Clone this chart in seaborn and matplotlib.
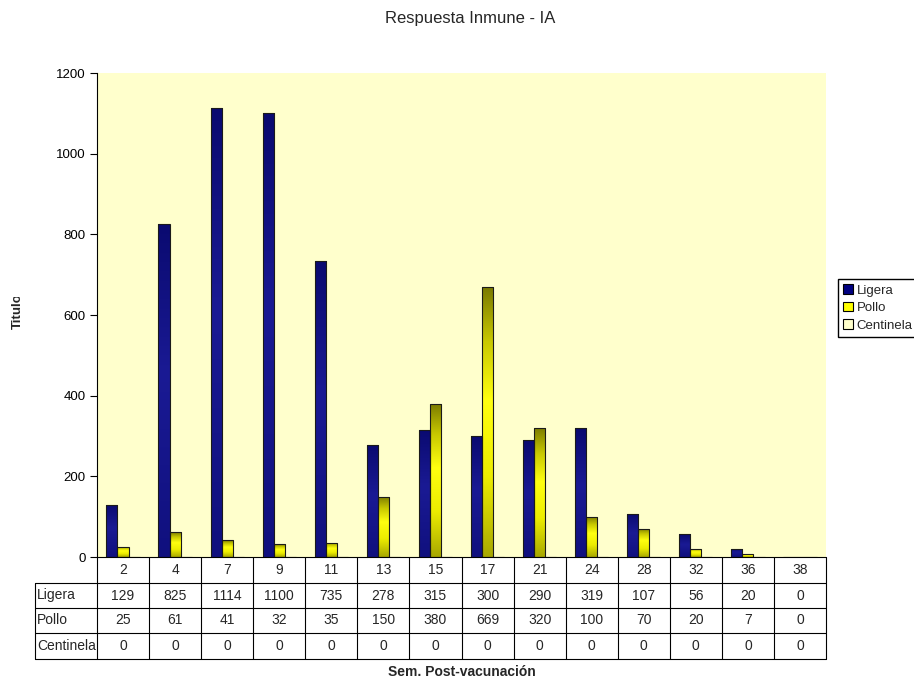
import numpy as np
import pandas as pd
import matplotlib
matplotlib.use("Agg")
import matplotlib.pyplot as plt
from matplotlib.colors import to_rgb
from matplotlib.lines import Line2D
from matplotlib.patches import Patch
from matplotlib.transforms import Bbox, TransformedBbox
import seaborn as sns

# ---- data -------------------------------------------------------------
weeks = [2, 4, 7, 9, 11, 13, 15, 17, 21, 24, 28, 32, 36, 38]
ligera = [129, 825, 1114, 1100, 735, 278, 315, 300, 290, 319, 107, 56, 20, 0]
pollo = [25, 61, 41, 32, 35, 150, 380, 669, 320, 100, 70, 20, 7, 0]
centinela = [0, 0, 0, 0, 0, 0, 0, 0, 0, 0, 0, 0, 0, 0]
series = ["Ligera", "Pollo", "Centinela"]
y_ticks = [0, 200, 400, 600, 800, 1000, 1200]

colors = {"Ligera": "#000080", "Pollo": "#ffff00", "Centinela": "#ffffcc"}

rows = []
for name, vals in zip(series, [ligera, pollo, centinela]):
    for w, v in zip(weeks, vals):
        rows.append({"semana": str(w), "serie": name, "valor": v})
df = pd.DataFrame(rows)

# ---- style ------------------------------------------------------------
sns.set_style("white")
plt.rcParams["font.family"] = ["Liberation Sans", "DejaVu Sans"]
fs_tick, fs_table, fs_legend, fs_title = 9.5, 10, 9.5, 12

W, H = 914, 682
fig = plt.figure(figsize=(W / 100, H / 100), dpi=100)
fig.patch.set_facecolor("white")


def fx(px):
    return px / W


def fy(py):
    return 1 - py / H


L, R, T, B = 97, 826, 73, 557
ax = fig.add_axes([fx(L), fy(B), (R - L) / W, (B - T) / H])
ax.set_facecolor("#ffffcc")

sns.barplot(data=df, x="semana", y="valor", hue="serie",
            order=[str(w) for w in weeks], hue_order=series,
            palette=colors, width=0.64, errorbar=None,
            edgecolor="#1a1a1a", linewidth=0.8, legend=False, ax=ax)

# vertical shading inside the bars
grad_stops = {
    "Ligera": [(0.0, "#10107e"), (0.55, "#1a1a94"), (1.0, "#0a0a70")],
    "Pollo": [(0.0, "#a8a800"), (0.3, "#eded00"), (0.58, "#ffff10"),
              (0.8, "#c8c800"), (1.0, "#7a7a00")],
}


def gradient(stops, n=200):
    t = np.linspace(0, 1, n)
    pos = [s[0] for s in stops]
    cols = np.array([to_rgb(s[1]) for s in stops])
    img = np.stack([np.interp(t, pos, cols[:, k]) for k in range(3)], axis=-1)
    return img[::-1, None, :]  # top row first


for name, cont in zip(series, ax.containers):
    if name not in grad_stops:
        continue
    img = gradient(grad_stops[name])
    for p in cont:
        h = p.get_height()
        if h <= 0:
            continue
        x0 = p.get_x()
        im = ax.imshow(img, extent=[x0, x0 + p.get_width(), 0, h],
                       aspect="auto", zorder=p.get_zorder() - 0.05,
                       interpolation="bilinear")
        im.set_clip_path(p)
        p.set_facecolor("none")

ax.set_xlim(-0.5, len(weeks) - 0.5)
ax.set_ylim(0, 1200)
ax.set_aspect("auto")
ax.set_yticks(y_ticks)
ax.set_xticks([])
ax.set_xlabel("")
ax.set_ylabel("")
ax.tick_params(axis="y", direction="out", length=5, width=0.8,
               labelsize=fs_tick, pad=3, colors="black", left=True)
for s in ["top", "right", "bottom"]:
    ax.spines[s].set_visible(False)
ax.spines["left"].set_color("black")
ax.spines["left"].set_linewidth(0.8)

# ---- data table under the axis -----------------------------------------
ncol = len(weeks)
cw = (R - L) / ncol
col_edges = [L + i * cw for i in range(ncol + 1)]
row_edges = [557, 583, 608, 633, 659]
lab_left = 35
lw = 0.8


def hline(x0, x1, y):
    fig.add_artist(Line2D([fx(x0), fx(x1)], [fy(y), fy(y)], color="black",
                          lw=lw, transform=fig.transFigure))


def vline(x, y0, y1):
    fig.add_artist(Line2D([fx(x), fx(x)], [fy(y0), fy(y1)], color="black",
                          lw=lw, transform=fig.transFigure))


hline(L, R, row_edges[0])
for y in row_edges[1:]:
    hline(lab_left, R, y)
for x in col_edges:
    vline(x, row_edges[0], row_edges[-1])
vline(lab_left, row_edges[1], row_edges[-1])

for i, w in enumerate(weeks):
    cx = (col_edges[i] + col_edges[i + 1]) / 2
    cy = (row_edges[0] + row_edges[1]) / 2
    fig.text(fx(cx), fy(cy), str(w), ha="center", va="center",
             fontsize=fs_table)

for r, (name, vals) in enumerate(zip(series, [ligera, pollo, centinela])):
    cy = (row_edges[r + 1] + row_edges[r + 2]) / 2
    fig.text(fx(lab_left + 2), fy(cy), name, ha="left", va="center",
             fontsize=fs_table)
    for i, v in enumerate(vals):
        cx = (col_edges[i] + col_edges[i + 1]) / 2
        fig.text(fx(cx), fy(cy), str(v), ha="center", va="center",
                 fontsize=fs_table)

# ---- titles ------------------------------------------------------------
fig.text(fx(470), fy(19), "Respuesta Inmune - IA", ha="center", va="center",
         fontsize=fs_title)
fig.text(fx((L + R) / 2), fy(672), "Sem. Post-vacunación", ha="center",
         va="center", fontsize=fs_table, weight="bold")
ylab = fig.text(fx(18), fy(311), "Titulo", ha="center", va="center",
                rotation=90, fontsize=9.5, weight="bold")
ylab.set_clip_box(TransformedBbox(Bbox.from_extents(0, 0, 1, fy(297)),
                                  fig.transFigure))
ylab.set_clip_on(True)

# ---- legend ------------------------------------------------------------
handles = [Patch(facecolor=colors[s], edgecolor="black", linewidth=0.8)
           for s in series]
fig.legend(handles, series, loc="upper left",
           bbox_to_anchor=(fx(838), fy(279)), bbox_transform=fig.transFigure,
           frameon=True, fancybox=False, edgecolor="black", framealpha=1,
           fontsize=fs_legend, handlelength=0.7, handleheight=0.7,
           handletextpad=0.3, borderpad=0.4, labelspacing=0.4,
           borderaxespad=0)

fig.savefig("out.png", dpi=100)
